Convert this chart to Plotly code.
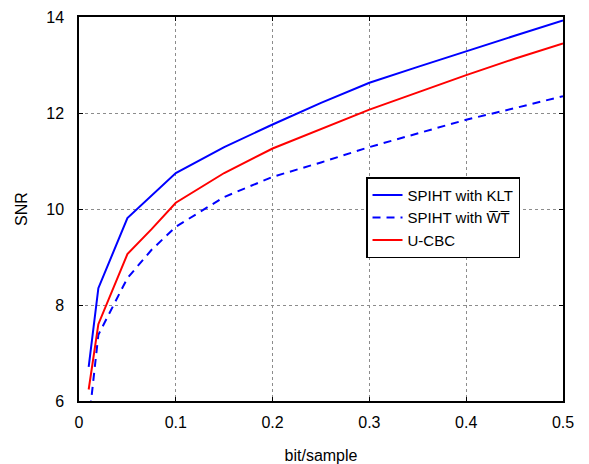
import plotly.graph_objects as go

x_klt = [0.01, 0.02, 0.05, 0.1, 0.15, 0.2, 0.25, 0.3, 0.35, 0.4, 0.45, 0.5]
y_klt = [6.71, 8.35, 9.81, 10.75, 11.29, 11.76, 12.21, 12.63, 12.96, 13.29, 13.61, 13.93]

x_wt = [0.01, 0.02, 0.05, 0.075, 0.1, 0.15, 0.2, 0.25, 0.3, 0.35, 0.4, 0.45, 0.5]
y_wt = [5.55, 7.38, 8.56, 9.15, 9.63, 10.25, 10.67, 10.97, 11.29, 11.58, 11.86, 12.1, 12.35]

x_cbc = [0.01, 0.02, 0.05, 0.075, 0.1, 0.15, 0.2, 0.25, 0.3, 0.35, 0.4, 0.45, 0.5]
y_cbc = [6.24, 7.60, 9.06, 9.58, 10.13, 10.75, 11.26, 11.67, 12.07, 12.43, 12.79, 13.13, 13.45]

x_ticks = [0, 0.1, 0.2, 0.3, 0.4, 0.5]
x_tick_labels = ["0", "0.1", "0.2", "0.3", "0.4", "0.5"]
y_ticks = [6, 8, 10, 12, 14]

FONT = "Liberation Sans, Arial, Helvetica, sans-serif"

fig = go.Figure()
fig.add_trace(go.Scatter(x=x_klt, y=y_klt, mode="lines", name="SPIHT with KLT",
                         line=dict(color="#0000ff", width=2)))
fig.add_trace(go.Scatter(x=x_wt, y=y_wt, mode="lines", name="SPIHT with W\u0305T\u0305",
                         line=dict(color="#0000ff", width=2, dash="8px,6px")))
fig.add_trace(go.Scatter(x=x_cbc, y=y_cbc, mode="lines", name="U-CBC",
                         line=dict(color="#ff0000", width=2)))

axis_common = dict(showline=True, linecolor="black", linewidth=1.5, mirror="ticks",
                   ticks="inside", ticklen=4, tickcolor="black",
                   showgrid=True, gridcolor="#8c8c8c", griddash="dot", gridwidth=1,
                   zeroline=False, tickfont=dict(size=16, color="black", family=FONT),
                   automargin=False)

fig.update_xaxes(range=[0, 0.5], tickvals=x_ticks, ticktext=x_tick_labels,
                 ticklabelstandoff=6,
                 title=dict(text="bit/sample", font=dict(size=16, color="black", family=FONT), standoff=22),
                 **axis_common)
fig.update_yaxes(range=[6, 14], tickvals=y_ticks, ticklabelstandoff=10,
                 title=dict(text="SNR", font=dict(size=16, color="black", family=FONT), standoff=15),
                 **axis_common)

fig.update_layout(width=589, height=464, margin=dict(l=79, r=26, t=17, b=63),
                  plot_bgcolor="white", paper_bgcolor="white",
                  font=dict(family=FONT, size=16, color="black"),
                  legend=dict(x=0.593, y=0.583, xanchor="left", yanchor="top",
                              bgcolor="white", bordercolor="black", borderwidth=1.5,
                              font=dict(size=15, color="black", family=FONT), tracegroupgap=0,
                              itemwidth=30))

fig.write_html("out.html", config={"displayModeBar": False},
               post_script="document.body.style.margin='0';")
